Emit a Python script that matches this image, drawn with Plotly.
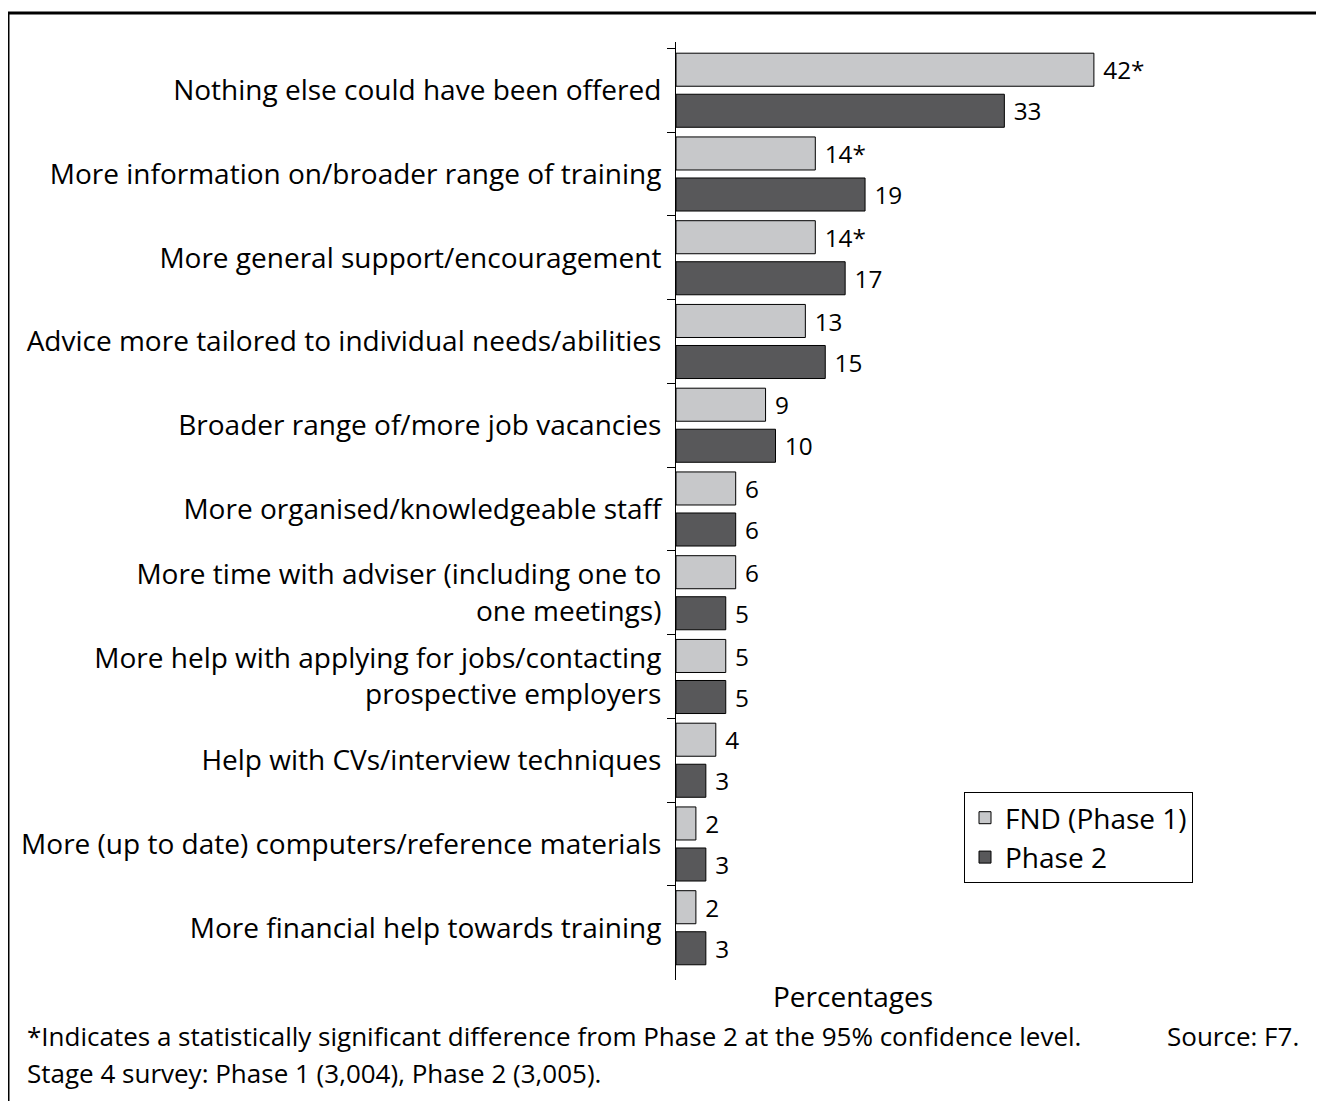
import plotly.graph_objects as go

categories = [
    "Nothing else could have been offered",
    "More information on/broader range of training",
    "More general support/encouragement",
    "Advice more tailored to individual needs/abilities",
    "Broader range of/more job vacancies",
    "More organised/knowledgeable staff",
    "More time with adviser (including one to<br>one meetings)",
    "More help with applying for jobs/contacting<br>prospective employers",
    "Help with CVs/interview techniques",
    "More (up to date) computers/reference materials",
    "More financial help towards training",
]
phase1 = [42, 14, 14, 13, 9, 6, 6, 5, 4, 2, 2]
phase1_labels = ["42*", "14*", "14*", "13", "9", "6", "6", "5", "4", "2", "2"]
phase2 = [33, 19, 17, 15, 10, 6, 5, 5, 3, 3, 3]
phase2_labels = ["33", "19", "17", "15", "10", "6", "5", "5", "3", "3", "3"]

# page body has an 8px default margin; design in reference pixels, shift by it
OFF = 8
W, H = 1324 - OFF, 1101 - OFF
AX_X, TOP_Y, BOT_Y = 676, 42, 980
L = AX_X - OFF
T = TOP_Y - OFF
B = H - (BOT_Y - OFF)
R = 0
PW = W - L - R
PH = H - T - B
FONT = "Open Sans"
FS = 28


def px(x):
    return (x - OFF - L) / PW


def py(y):
    return 1 - (y - OFF - T) / PH


fig = go.Figure()
fig.add_trace(go.Bar(
    name="FND (Phase 1)", y=categories, x=phase1, orientation="h",
    text=["\u00a0" + s for s in phase1_labels], textposition="outside",
    marker=dict(color="#C7C8CA", line=dict(color="#000000", width=1)),
    textfont=dict(family=FONT, size=FS, color="#000"), cliponaxis=False,
))
fig.add_trace(go.Bar(
    name="Phase 2", y=categories, x=phase2, orientation="h",
    text=["\u00a0" + s for s in phase2_labels], textposition="outside",
    marker=dict(color="#58585A", line=dict(color="#000000", width=1)),
    textfont=dict(family=FONT, size=FS, color="#000"), cliponaxis=False,
))

fig.update_layout(
    width=W, height=H,
    margin=dict(l=L, r=R, t=T, b=B, pad=0),
    paper_bgcolor="white", plot_bgcolor="white",
    barmode="group", bargap=0.02, bargroupgap=0.195,
    font=dict(family=FONT, size=FS, color="#000"),
    showlegend=True,
    legend=dict(
        x=px(964), y=py(792), xanchor="left", yanchor="top",
        bordercolor="#000", borderwidth=1, bgcolor="white",
        font=dict(family=FONT, size=FS, color="#000"),
        traceorder="normal", itemwidth=30,
    ),
    xaxis=dict(range=[0, PW / 9.95], visible=False, showgrid=False, zeroline=False),
    yaxis=dict(
        type="category", categoryorder="array", categoryarray=categories,
        range=[10.624, -0.576], showline=True, linecolor="#000", linewidth=1,
        ticks="outside", ticklen=8, tickcolor="#000", tickson="boundaries",
        showgrid=False, zeroline=False, ticklabelstandoff=8,
        tickfont=dict(family=FONT, size=FS, color="#000"),
    ),
)

fig.add_annotation(
    text="Percentages", xref="paper", yref="paper",
    x=px(853), y=py(996), xanchor="center", yanchor="middle",
    showarrow=False, font=dict(family=FONT, size=FS, color="#000"),
)
fig.add_annotation(
    text="*Indicates a statistically significant difference from Phase 2 at the 95% confidence level.",
    xref="paper", yref="paper", x=px(25), y=py(1036), xanchor="left", yanchor="middle",
    showarrow=False, font=dict(family=FONT, size=26, color="#000"),
)
fig.add_annotation(
    text="Source: F7.", xref="paper", yref="paper", x=px(1301), y=py(1036),
    xanchor="right", yanchor="middle",
    showarrow=False, font=dict(family=FONT, size=26, color="#000"),
)
fig.add_annotation(
    text="Stage 4 survey: Phase 1 (3,004), Phase 2 (3,005).",
    xref="paper", yref="paper", x=px(25), y=py(1073), xanchor="left", yanchor="middle",
    showarrow=False, font=dict(family=FONT, size=26, color="#000"),
)
fig.add_shape(
    type="rect", xref="paper", yref="paper",
    x0=px(8), x1=px(1322), y0=py(1130), y1=py(13),
    line=dict(color="#000", width=3), layer="above",
)

fig.write_html("out.html")
